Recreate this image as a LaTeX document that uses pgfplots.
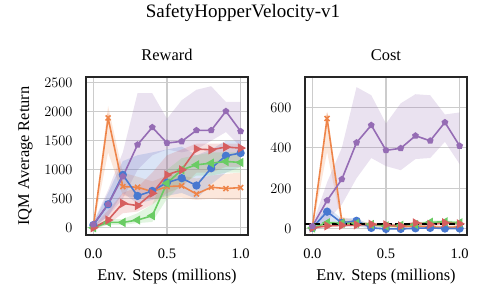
\documentclass[border=0pt]{standalone}
\usepackage{pgfplots}
\pgfplotsset{compat=1.18}
\usepackage{fontspec}
\setmainfont{Liberation Serif}

\definecolor{cpur}{HTML}{956CB4}
\definecolor{cora}{HTML}{EE854A}
\definecolor{cblu}{HTML}{4878D0}
\definecolor{cred}{HTML}{D65F5F}
\definecolor{cgre}{HTML}{6ACC64}

\pgfplotsset{
  myax/.style={
    scale only axis,
    width=162pt, height=158pt,
    xmin=-0.05, xmax=1.05,
    xtick={0,0.5,1},
    xticklabels={0.0,0.5,1.0},
    grid=major,
    grid style={black!20, line width=1.1pt},
    axis line style={black!85, line width=1.1pt},
    major tick length=0pt,
    tick label style={font=\fontsize{14.5}{15}\selectfont},
    xticklabel shift=10pt,
    yticklabel shift=10pt,
    label style={font=\fontsize{16.4}{18}\selectfont},
    title style={font=\fontsize{16.4}{18}\selectfont, at={(axis description cs:0.5,1.067)}, anchor=base},
    xlabel style={at={(axis description cs:0.5,-0.285)}, anchor=base},
    ylabel style={at={(axis description cs:-0.373,0.5)}, anchor=center},
    /pgf/number format/1000 sep={},
    xlabel={Env. Steps (millions)},
  },
  bnd/.style={fill=#1, fill opacity=0.2, draw=none, forget plot},
  ln/.style={line width=1.6pt},
  mpur/.style={ln, cpur, mark=pentagon*, mark size=2.6pt, mark options={solid}},
  mora/.style={ln, cora, mark=x, mark size=3.5pt, mark options={solid, line width=1.6pt}},
  mblu/.style={ln, cblu, mark=*, mark size=3.3pt, mark options={solid}},
  mred/.style={ln, cred, mark=triangle*, mark size=3.8pt, mark options={solid, rotate=-90}},
  mgre/.style={ln, cgre, mark=triangle*, mark size=3.8pt, mark options={solid, rotate=90}},
}

\begin{document}
\begin{tikzpicture}
\useasboundingbox (0,0) rectangle (488pt,302pt);
\node[anchor=base, font=\fontsize{19}{22}\selectfont] at (243pt,284.7pt) {SafetyHopperVelocity-v1};

\begin{axis}[myax, at={(86pt,67pt)}, anchor=south west,
  ymin=-125, ymax=2600, ytick={0,500,1000,1500,2000,2500},
  title={Reward},
  ylabel={IQM Average Return}]
  % bands: lower bound forward, upper bound backward
  \addplot[bnd=cpur] coordinates {(0,20)(0.1,200)(0.2,500)(0.3,1000)(0.4,1250)(0.5,1350)(0.6,1300)(0.7,1350)(0.8,1500)(0.9,1650)(1.0,1400)
    (1.0,2170)(0.9,2170)(0.8,2440)(0.7,2380)(0.6,2200)(0.5,1880)(0.4,2320)(0.3,2320)(0.2,1300)(0.1,650)(0,100)};
  \addplot[bnd=cora] coordinates {(0,0)(0.1,1300)(0.2,550)(0.3,520)(0.4,500)(0.5,520)(0.6,520)(0.7,480)(0.8,500)(0.9,480)(1.0,480)
    (1.0,950)(0.9,930)(0.8,900)(0.7,850)(0.6,900)(0.5,900)(0.4,800)(0.3,880)(0.2,950)(0.1,2100)(0,40)};
  \addplot[bnd=cblu] coordinates {(0,0)(0.1,200)(0.2,600)(0.3,420)(0.4,480)(0.5,550)(0.6,600)(0.7,500)(0.8,750)(0.9,950)(1.0,1050)
    (1.0,1500)(0.9,1500)(0.8,1350)(0.7,1250)(0.6,1400)(0.5,1350)(0.4,1300)(0.3,1250)(0.2,1150)(0.1,600)(0,80)};
  \addplot[bnd=cred] coordinates {(0,-20)(0.1,60)(0.2,250)(0.3,280)(0.4,400)(0.5,600)(0.6,700)(0.7,950)(0.8,950)(0.9,1050)(1.0,1050)
    (1.0,1450)(0.9,1450)(0.8,1450)(0.7,1450)(0.6,1350)(0.5,1250)(0.4,950)(0.3,700)(0.2,600)(0.1,300)(0,20)};
  \addplot[bnd=cgre] coordinates {(0,-20)(0.1,50)(0.2,50)(0.3,80)(0.4,100)(0.5,500)(0.6,750)(0.7,900)(0.8,900)(0.9,950)(1.0,950)
    (1.0,1300)(0.9,1300)(0.8,1300)(0.7,1250)(0.6,1200)(0.5,1000)(0.4,400)(0.3,250)(0.2,150)(0.1,150)(0,20)};
  % means
  \addplot[mora] coordinates {(0,17)(0.1,1894)(0.2,710)(0.3,699)(0.4,624)(0.5,710)(0.6,722)(0.7,583)(0.8,699)(0.9,676)(1.0,693)};
  \addplot[mblu] coordinates {(0,46)(0.1,404)(0.2,912)(0.3,549)(0.4,635)(0.5,780)(0.6,855)(0.7,728)(0.8,1028)(0.9,1241)(1.0,1288)};
  \addplot[mgre] coordinates {(0,0)(0.1,92)(0.2,92)(0.3,133)(0.4,208)(0.5,768)(0.6,999)(0.7,1086)(0.8,1114)(0.9,1143)(1.0,1126)};
  \addplot[mred] coordinates {(0,0)(0.1,133)(0.2,422)(0.3,381)(0.4,595)(0.5,912)(0.6,999)(0.7,1357)(0.8,1345)(0.9,1392)(1.0,1374)};
  \addplot[mpur] coordinates {(0,58)(0.1,404)(0.2,883)(0.3,1432)(0.4,1732)(0.5,1461)(0.6,1490)(0.7,1680)(0.8,1680)(0.9,2009)(1.0,1663)};
\end{axis}

\begin{axis}[myax, at={(305pt,67pt)}, anchor=south west,
  ymin=-30, ymax=750, ytick={0,200,400,600},
  title={Cost}]
  \addplot[bnd=cpur] coordinates {(0,5)(0.1,40)(0.2,120)(0.3,250)(0.4,350)(0.5,310)(0.6,290)(0.7,345)(0.8,350)(0.9,430)(1.0,320)
    (1.0,575)(0.9,565)(0.8,660)(0.7,665)(0.6,620)(0.5,520)(0.4,660)(0.3,700)(0.2,400)(0.1,230)(0,20)};
  \addplot[bnd=cora] coordinates {(0,0)(0.1,380)(0.2,15)(0.3,15)(0.4,10)(0.5,8)(0.6,5)(0.7,5)(0.8,3)(0.9,2)(1.0,3)
    (1.0,20)(0.9,15)(0.8,20)(0.7,25)(0.6,20)(0.5,28)(0.4,30)(0.3,40)(0.2,60)(0.1,580)(0,10)};
  \addplot[bnd=cblu] coordinates {(0,0)(0.1,40)(0.2,10)(0.3,15)(0.4,0)(0.5,-3)(0.6,-3)(0.7,0)(0.8,0)(0.9,0)(1.0,0)
    (1.0,6)(0.9,6)(0.8,10)(0.7,8)(0.6,5)(0.5,5)(0.4,15)(0.3,55)(0.2,50)(0.1,110)(0,10)};
  \addplot[bnd=cred] coordinates {(0,0)(0.1,7)(0.2,10)(0.3,12)(0.4,15)(0.5,12)(0.6,7)(0.7,22)(0.8,14)(0.9,22)(1.0,17)
    (1.0,33)(0.9,38)(0.8,30)(0.7,38)(0.6,23)(0.5,28)(0.4,31)(0.3,28)(0.2,26)(0.1,23)(0,12)};
  \addplot[bnd=cgre] coordinates {(0,0)(0.1,22)(0.2,20)(0.3,19)(0.4,14)(0.5,7)(0.6,10)(0.7,14)(0.8,25)(0.9,27)(1.0,22)
    (1.0,38)(0.9,43)(0.8,41)(0.7,30)(0.6,26)(0.5,23)(0.4,30)(0.3,35)(0.2,36)(0.1,38)(0,12)};
  \addplot[mora] coordinates {(0,5)(0.1,545)(0.2,38)(0.3,25)(0.4,20)(0.5,18)(0.6,10)(0.7,15)(0.8,10)(0.9,8)(1.0,10)};
  \addplot[mblu] coordinates {(0,5)(0.1,85)(0.2,30)(0.3,40)(0.4,5)(0.5,0)(0.6,0)(0.7,3)(0.8,5)(0.9,2)(1.0,2)};
  \addplot[mgre] coordinates {(0,5)(0.1,30)(0.2,28)(0.3,27)(0.4,22)(0.5,15)(0.6,18)(0.7,22)(0.8,33)(0.9,35)(1.0,30)};
  \addplot[mred] coordinates {(0,5)(0.1,15)(0.2,18)(0.3,20)(0.4,23)(0.5,20)(0.6,15)(0.7,30)(0.8,22)(0.9,30)(1.0,25)};
  \addplot[mpur] coordinates {(0,13)(0.1,140)(0.2,245)(0.3,426)(0.4,512)(0.5,388)(0.6,398)(0.7,460)(0.8,435)(0.9,526)(1.0,410)};
  \addplot[black, dashed, line width=1.8pt, dash pattern=on 6pt off 3pt, forget plot] coordinates {(-0.05,25) (1.05,25)};
\end{axis}
\end{tikzpicture}
\end{document}
